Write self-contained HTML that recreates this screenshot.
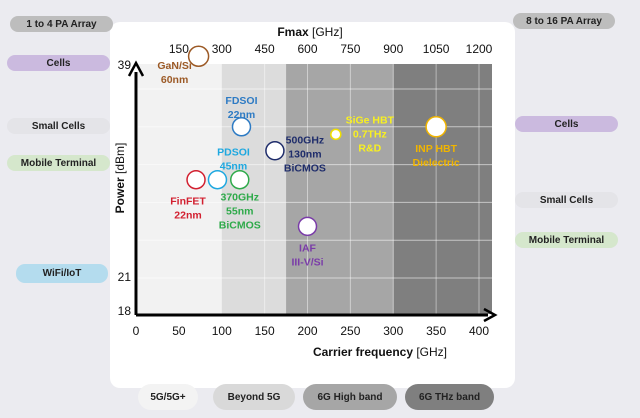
<!DOCTYPE html>
<html><head><meta charset="utf-8"><style>
body{margin:0;width:640px;height:418px;background:#ebebf0;font-family:"Liberation Sans",sans-serif;overflow:hidden;position:relative}
.pill{position:absolute;border-radius:9px;font-size:10px;font-weight:bold;color:#222;display:flex;align-items:center;justify-content:center}
#panel{position:absolute;left:110px;top:22px;width:405px;height:366px;background:#fff;border-radius:10px}
svg{position:absolute;left:0;top:0}
</style></head><body>
<div id="panel"></div>
<div class="pill" style="left:10px;top:16px;width:103px;height:16px;background:#bdbdbd">1 to 4 PA Array</div>
<div class="pill" style="left:7px;top:55px;width:103px;height:16px;background:#cbbadf">Cells</div>
<div class="pill" style="left:7px;top:118px;width:103px;height:16px;background:#e4e4e8">Small Cells</div>
<div class="pill" style="left:7px;top:155px;width:103px;height:16px;background:#d5e7cc">Mobile Terminal</div>
<div class="pill" style="left:16px;top:264px;width:92px;height:19px;background:#b4dcee">WiFi/IoT</div>
<div class="pill" style="left:513px;top:13px;width:102px;height:16px;background:#bdbdbd">8 to 16 PA Array</div>
<div class="pill" style="left:515px;top:116px;width:103px;height:16px;background:#cbbadf">Cells</div>
<div class="pill" style="left:515px;top:192px;width:103px;height:16px;background:#e4e4e8">Small Cells</div>
<div class="pill" style="left:515px;top:232px;width:103px;height:16px;background:#d5e7cc">Mobile Terminal</div>
<div class="pill" style="left:138px;top:384px;width:60px;height:26px;border-radius:13px;background:#f3f3f3">5G/5G+</div>
<div class="pill" style="left:213px;top:384px;width:82px;height:26px;border-radius:13px;background:#d9d9d9">Beyond 5G</div>
<div class="pill" style="left:303px;top:384px;width:94px;height:26px;border-radius:13px;background:#a6a6a6">6G High band</div>
<div class="pill" style="left:405px;top:384px;width:89px;height:26px;border-radius:13px;background:#7f7f7f">6G THz band</div>
<svg id="chart" width="640" height="418"></svg>
<script>
const bandStarts=[0,100,175,300];
const bandEnds=[100,175,300,416];
const bandColors=['#f2f2f2','#dcdcdc','#a6a6a6','#7f7f7f'];
const xTicks=[0,50,100,150,200,250,300,350,400];
const fmaxTicks=[150,300,450,600,750,900,1050,1200];
const yGrid=[24,27,30,33,36];
const yLabels=[39,21,18];
const names=['GaN/Si|60nm','FDSOI|22nm','500GHz|130nm|BiCMOS','SiGe HBT|0.7THz|R&D','INP HBT|Dielectric','FinFET|22nm','PDSOI|45nm','370GHz|55nm|BiCMOS','IAF|III-V/Si'];
const freqs=[73,123,162,233,350,70,95,121,200];
const powers=[38.6,33,31.1,32.4,33,28.8,28.8,28.8,25.1];
const radii=[10,9,9,5,10,9,9,9,9];
const colors=['#9c5a26','#2e7bc4','#1f2d6b','#f0e000','#f0b400','#d22030','#1ea8e0','#2eaa4a','#7a3ca8'];
const labelDx=[-24,0,30,34,0,-8,16,0,0];
const labelDy=[13,-23,-7,-11,25,25,-24,21,25];
const labelFill=['#9c5a26','#2e7bc4','#1f2d6b','#f8f020','#f0b400','#d22030','#1ea8e0','#2eaa4a','#7a3ca8'];
const X=v=>136+v*0.8575, Fx=f=>136+f*343/1200, Y=p=>278-(p-21)*12.6;
const svg=document.getElementById('chart'),NS='http://www.w3.org/2000/svg';
function mk(t,a,txt){const e=document.createElementNS(NS,t);for(const k in a)e.setAttribute(k,a[k]);if(txt!==undefined)e.textContent=txt;svg.appendChild(e);return e;}
bandStarts.forEach((b,i)=>{const r=mk('rect',{x:X(b)+(i?0:2),y:64,width:Math.min(X(bandEnds[i]),492)-X(b)-(i?0:2),height:250,fill:bandColors[i]});

});
xTicks.slice(3).forEach(v=>{const l=mk('line',{x1:X(v),x2:X(v),y1:64,y2:314,stroke:'#fff','stroke-opacity':0.45});

});
yGrid.concat([21]).forEach(v=>{const l=mk('line',{x1:138,x2:492,y1:Y(v),y2:Y(v),stroke:'#fff','stroke-opacity':0.55});

});
const ax=mk('path',{d:'M136 315 V72 M136 315 H488',stroke:'#000','stroke-width':3,fill:'none'});


const ar=mk('path',{d:'M129 76 L136 63 L143 76 M484 309 L495 315 L484 321',stroke:'#000','stroke-width':2.5,fill:'none'});


xTicks.forEach(v=>{const t=mk('text',{x:X(v),y:335,'text-anchor':'middle','font-size':12,fill:'#111'},v);

});
fmaxTicks.forEach(v=>{const t=mk('text',{x:Fx(v),y:53,'text-anchor':'middle','font-size':12,fill:'#111'},v);

});
const ly={39:69,21:281,18:315};
yLabels.forEach(v=>{const t=mk('text',{x:131,y:ly[v],'text-anchor':'end','font-size':12,fill:'#111'},v);

});
let t=mk('text',{x:380,y:356,'text-anchor':'middle','font-size':12,fill:'#111'});t.innerHTML='<tspan font-weight="bold">Carrier frequency</tspan> [GHz]';


t=mk('text',{x:310,y:36,'text-anchor':'middle','font-size':12,fill:'#111'});t.innerHTML='<tspan font-weight="bold">Fmax</tspan> [GHz]';


t=mk('text',{x:0,y:0,'text-anchor':'middle','font-size':12,fill:'#111',transform:'translate(124,178) rotate(-90)'});t.innerHTML='<tspan font-weight="bold">Power</tspan> [dBm]';


names.forEach((n,i)=>{const cx=X(freqs[i]),cy=Y(powers[i]);
const c=mk('circle',{cx:cx,cy:cy,r:radii[i],fill:'#fff',stroke:colors[i],'stroke-width':1.5});


n.split('|').forEach((s,j)=>{const tt=mk('text',{x:cx+labelDx[i],y:cy+labelDy[i]+j*14,'text-anchor':'middle','font-size':10.5,'font-weight':'bold',fill:labelFill[i]},s);

});});
</script>
</body></html>
